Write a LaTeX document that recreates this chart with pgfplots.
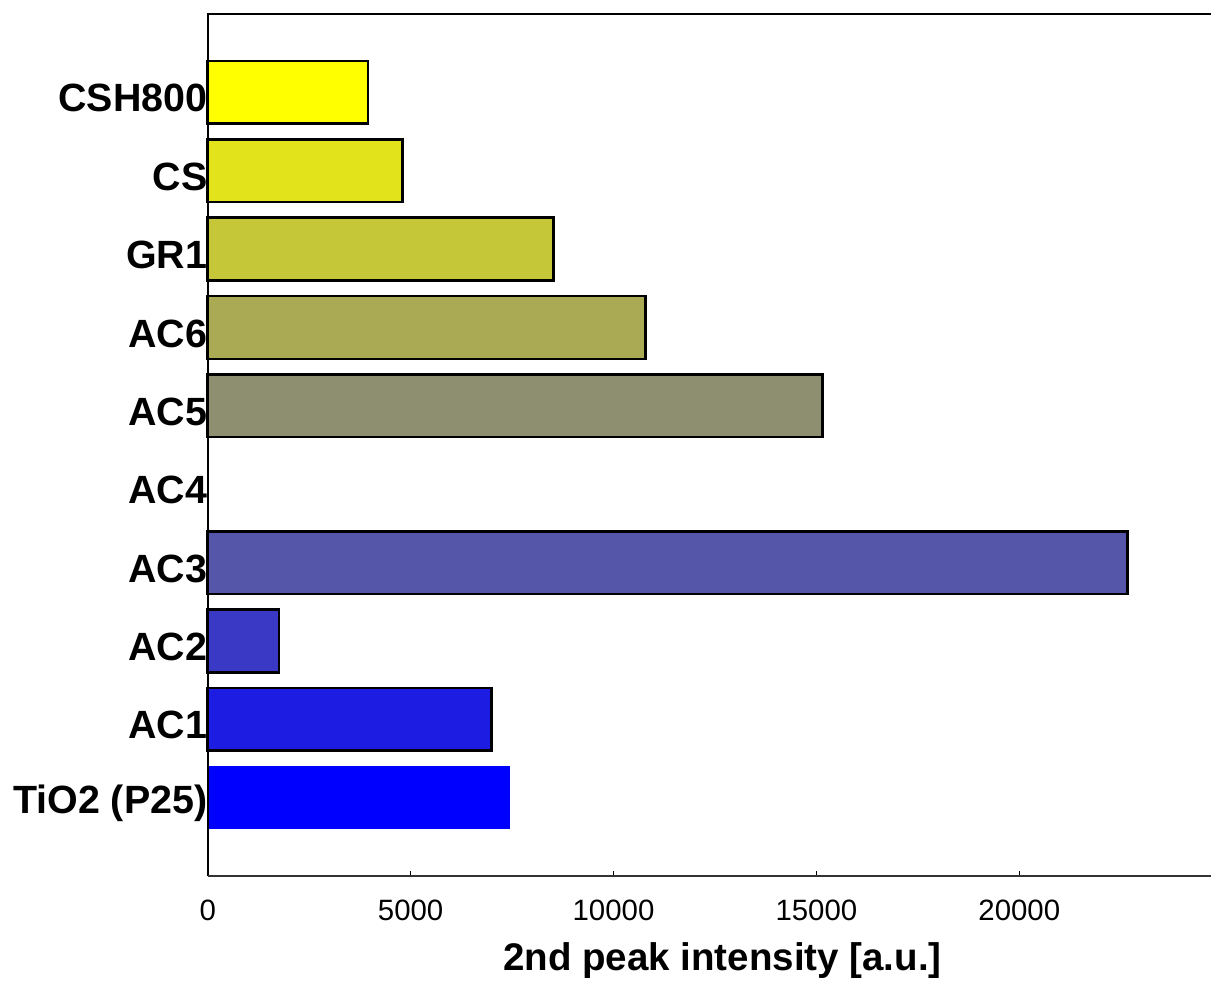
\documentclass[border=0pt]{standalone}
\usepackage{pgfplots}
\pgfplotsset{compat=1.18}
\usepackage{fontspec}
\setmainfont{Liberation Sans}

% blue-to-yellow ramp, one step per sample
\definecolor{c0}{RGB}{0,0,255}
\definecolor{c1}{RGB}{28,28,227}
\definecolor{c2}{RGB}{57,57,198}
\definecolor{c3}{RGB}{85,85,170}
\definecolor{c4}{RGB}{113,113,142}
\definecolor{c5}{RGB}{142,142,113}
\definecolor{c6}{RGB}{170,170,85}
\definecolor{c7}{RGB}{198,198,57}
\definecolor{c8}{RGB}{227,227,28}
\definecolor{c9}{RGB}{255,255,0}

\begin{document}
\begin{tikzpicture}
\begin{axis}[
  scale only axis,
  width=501.6pt, height=431pt,
  xbar, bar width=0.8, bar shift=0pt,
  xmin=0, xmax=24724, ymin=0, ymax=11,
  clip=false,
  axis line style={draw=none},
  ytick={1,2,3,4,5,6,7,8,9,10},
  yticklabels={TiO2 (P25),AC1,AC2,AC3,AC4,AC5,AC6,GR1,CS,CSH800},
  xtick={0,5000,10000,15000,20000},
  scaled x ticks=false,
  /pgf/number format/assume math mode=true,
  /pgf/number format/1000 sep={},
  tick align=inside,
  xtick pos=lower,
  major tick length=2.5pt,
  xtick style={line width=0.5pt, black},
  ytick style={draw=none},
  xticklabel style={font=\fontsize{14.7}{17}\selectfont, inner sep=0pt, anchor=north, yshift=-12pt},
  yticklabel style={font=\fontsize{19.7}{22}\selectfont\bfseries, inner sep=0pt, anchor=east, yshift=-3pt},
  xlabel={2nd peak intensity [a.u.]},
  xlabel style={font=\fontsize{19.25}{22}\selectfont\bfseries, at={(axis description cs:0.513,0)}, anchor=base, yshift=-47pt},
  every axis plot/.append style={draw=black, line width=1.3pt},
]
\addplot[fill=c0, draw=none] coordinates {(7440,1)};
\addplot[fill=c1] coordinates {(6998,2)};
\addplot[fill=c2] coordinates {(1757,3)};
\addplot[fill=c3] coordinates {(22662,4)};
\addplot[fill=c4, draw=black!70, line width=0.6pt] coordinates {(0,5)};
\addplot[fill=c5] coordinates {(15145,6)};
\addplot[fill=c6] coordinates {(10784,7)};
\addplot[fill=c7] coordinates {(8517,8)};
\addplot[fill=c8] coordinates {(4795,9)};
\addplot[fill=c9] coordinates {(3950,10)};

% frame: left and top in black, bottom slightly lighter
\draw[line width=1.1pt, black] (rel axis cs:0,0) -- (rel axis cs:0,1) -- (rel axis cs:1,1);
\draw[line width=0.7pt, black!80] (rel axis cs:0,0) -- (rel axis cs:1,0);
\coordinate (bl) at (rel axis cs:0,0);
\coordinate (tr) at (rel axis cs:1,1);
\end{axis}
\pgfresetboundingbox
\path ([xshift=-103.85pt,yshift=-54pt]bl) rectangle ([yshift=7pt]tr);
\end{tikzpicture}
\end{document}
